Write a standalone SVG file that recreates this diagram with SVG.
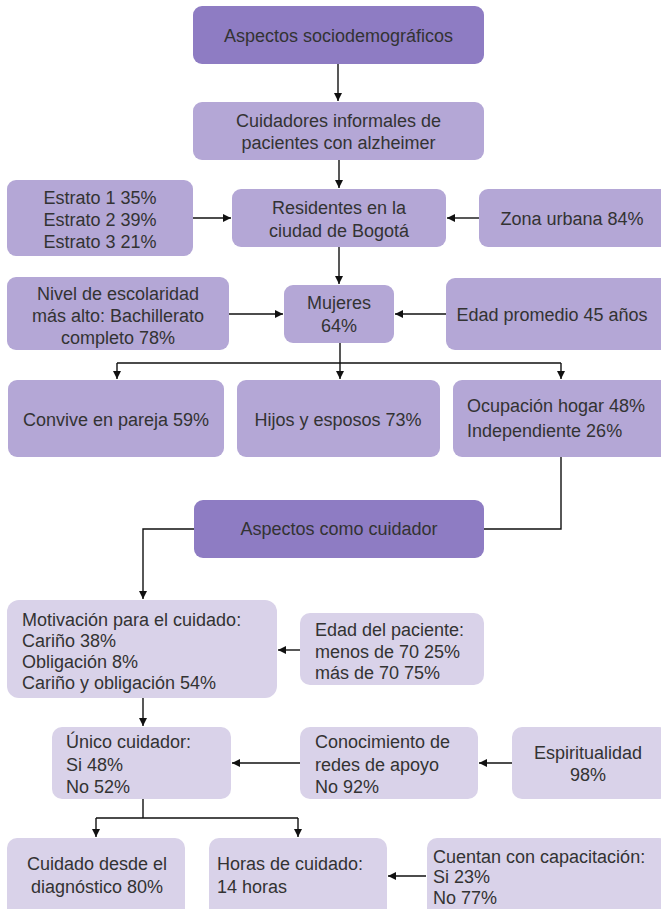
<svg xmlns="http://www.w3.org/2000/svg" width="661" height="909" viewBox="0 0 661 909">
<defs>
<style>
.dark{fill:#8e7cc3}
.mid{fill:#b4a7d6}
.light{fill:#d9d2e9}
text{font-family:"Liberation Sans",Arial,sans-serif;font-size:18px;fill:#333;dominant-baseline:central}
.c{text-anchor:middle}
.l{text-anchor:start}
.conn path{fill:none;stroke:#111;stroke-width:1.4}
</style>
<marker id="ah" markerUnits="userSpaceOnUse" markerWidth="10" markerHeight="10" refX="8" refY="4" orient="auto">
<path d="M0,0 L8,4 L0,8 Z" fill="#111"/>
</marker>
</defs>
<rect width="661" height="909" fill="#fff"/>

<g id="connectors" class="conn">
<path d="M338,64 V101" marker-end="url(#ah)"/>
<path d="M339,160 V188" marker-end="url(#ah)"/>
<path d="M193,218 H231" marker-end="url(#ah)"/>
<path d="M479,218 H447" marker-end="url(#ah)"/>
<path d="M339,247 V284" marker-end="url(#ah)"/>
<path d="M229,314 H283" marker-end="url(#ah)"/>
<path d="M446,314 H395" marker-end="url(#ah)"/>
<path d="M340,343 V363 M117,363 H561"/>
<path d="M117,363 V379" marker-end="url(#ah)"/>
<path d="M340,363 V379" marker-end="url(#ah)"/>
<path d="M561,363 V379" marker-end="url(#ah)"/>
<path d="M561,457 V529 H484"/>
<path d="M194,529 H143 V599" marker-end="url(#ah)"/>
<path d="M300,650 H278" marker-end="url(#ah)"/>
<path d="M143,698 V726" marker-end="url(#ah)"/>
<path d="M300,763 H232" marker-end="url(#ah)"/>
<path d="M512,763 H479" marker-end="url(#ah)"/>
<path d="M143,799 V818 M96,818 H298"/>
<path d="M96,818 V837" marker-end="url(#ah)"/>
<path d="M298,818 V837" marker-end="url(#ah)"/>
<path d="M426,876 H388" marker-end="url(#ah)"/>
</g>

<g id="n-aspectos-socio"><rect class="dark" x="193" y="6" width="291" height="58" rx="9"/><text class="c" x="338.5" y="36">Aspectos sociodemográficos</text></g>
<g id="n-cuidadores"><rect class="mid" x="193" y="102" width="291" height="58" rx="9"/><text class="c" x="338.5" y="121">Cuidadores informales de</text><text class="c" x="338.5" y="143">pacientes con alzheimer</text></g>
<g id="n-estrato"><rect class="mid" x="7" y="180" width="186" height="76" rx="9"/><text class="c" x="100" y="198">Estrato 1 35%</text><text class="c" x="100" y="220">Estrato 2 39%</text><text class="c" x="100" y="242">Estrato 3 21%</text></g>
<g id="n-residentes"><rect class="mid" x="232" y="189" width="214" height="58" rx="9"/><text class="c" x="339" y="208">Residentes en la</text><text class="c" x="339" y="231">ciudad de Bogotá</text></g>
<g id="n-zona"><rect class="mid" x="479" y="189" width="190" height="58" rx="9"/><text class="c" x="572" y="219">Zona urbana 84%</text></g>
<g id="n-nivel"><rect class="mid" x="7" y="277" width="222" height="73" rx="9"/><text class="c" x="118" y="294">Nivel de escolaridad</text><text class="c" x="118" y="316">más alto: Bachillerato</text><text class="c" x="118" y="338">completo 78%</text></g>
<g id="n-mujeres"><rect class="mid" x="284" y="285" width="110" height="58" rx="9"/><text class="c" x="339" y="303">Mujeres</text><text class="c" x="339" y="326">64%</text></g>
<g id="n-edad-prom"><rect class="mid" x="446" y="278" width="223" height="72" rx="9"/><text class="c" x="552" y="315">Edad promedio 45 años</text></g>
<g id="n-convive"><rect class="mid" x="8" y="380" width="216" height="77" rx="9"/><text class="c" x="116" y="420">Convive en pareja 59%</text></g>
<g id="n-hijos"><rect class="mid" x="237" y="380" width="203" height="77" rx="9"/><text class="c" x="338" y="420">Hijos y esposos 73%</text></g>
<g id="n-ocupacion"><rect class="mid" x="453" y="380" width="216" height="77" rx="9"/><text class="l" x="467" y="406">Ocupación hogar 48%</text><text class="l" x="467" y="431">Independiente 26%</text></g>
<g id="n-aspectos-cuid"><rect class="dark" x="194" y="500" width="290" height="58" rx="9"/><text class="c" x="339" y="529">Aspectos como cuidador</text></g>
<g id="n-motivacion"><rect class="light" x="7" y="600" width="270" height="98" rx="12"/><text class="l" x="22" y="620">Motivación para el cuidado:</text><text class="l" x="22" y="641">Cariño 38%</text><text class="l" x="22" y="662">Obligación 8%</text><text class="l" x="22" y="683">Cariño y obligación 54%</text></g>
<g id="n-edad-pac"><rect class="light" x="300" y="613" width="184" height="72" rx="10"/><text class="l" x="315" y="630">Edad del paciente:</text><text class="l" x="315" y="652">menos de 70 25%</text><text class="l" x="315" y="673">más de 70 75%</text></g>
<g id="n-unico"><rect class="light" x="52" y="727" width="179" height="72" rx="10"/><text class="l" x="66" y="742">Único cuidador:</text><text class="l" x="66" y="765">Si 48%</text><text class="l" x="66" y="787">No 52%</text></g>
<g id="n-conocimiento"><rect class="light" x="300" y="727" width="178" height="72" rx="10"/><text class="l" x="315" y="742">Conocimiento de</text><text class="l" x="315" y="765">redes de apoyo</text><text class="l" x="315" y="787">No 92%</text></g>
<g id="n-espiritualidad"><rect class="light" x="512" y="727" width="157" height="72" rx="10"/><text class="c" x="588" y="753">Espiritualidad</text><text class="c" x="588" y="775">98%</text></g>
<g id="n-cuidado"><rect class="light" x="7" y="838" width="178" height="80" rx="10"/><text class="c" x="97" y="864">Cuidado desde el</text><text class="c" x="97" y="887">diagnóstico 80%</text></g>
<g id="n-horas"><rect class="light" x="209" y="838" width="178" height="80" rx="10"/><text class="l" x="217" y="864">Horas de cuidado:</text><text class="l" x="217" y="887">14 horas</text></g>
<g id="n-cuentan"><rect class="light" x="427" y="838" width="242" height="80" rx="10"/><text class="l" x="433" y="857">Cuentan con capacitación:</text><text class="l" x="433" y="877">Si 23%</text><text class="l" x="433" y="898">No 77%</text></g>
</svg>
